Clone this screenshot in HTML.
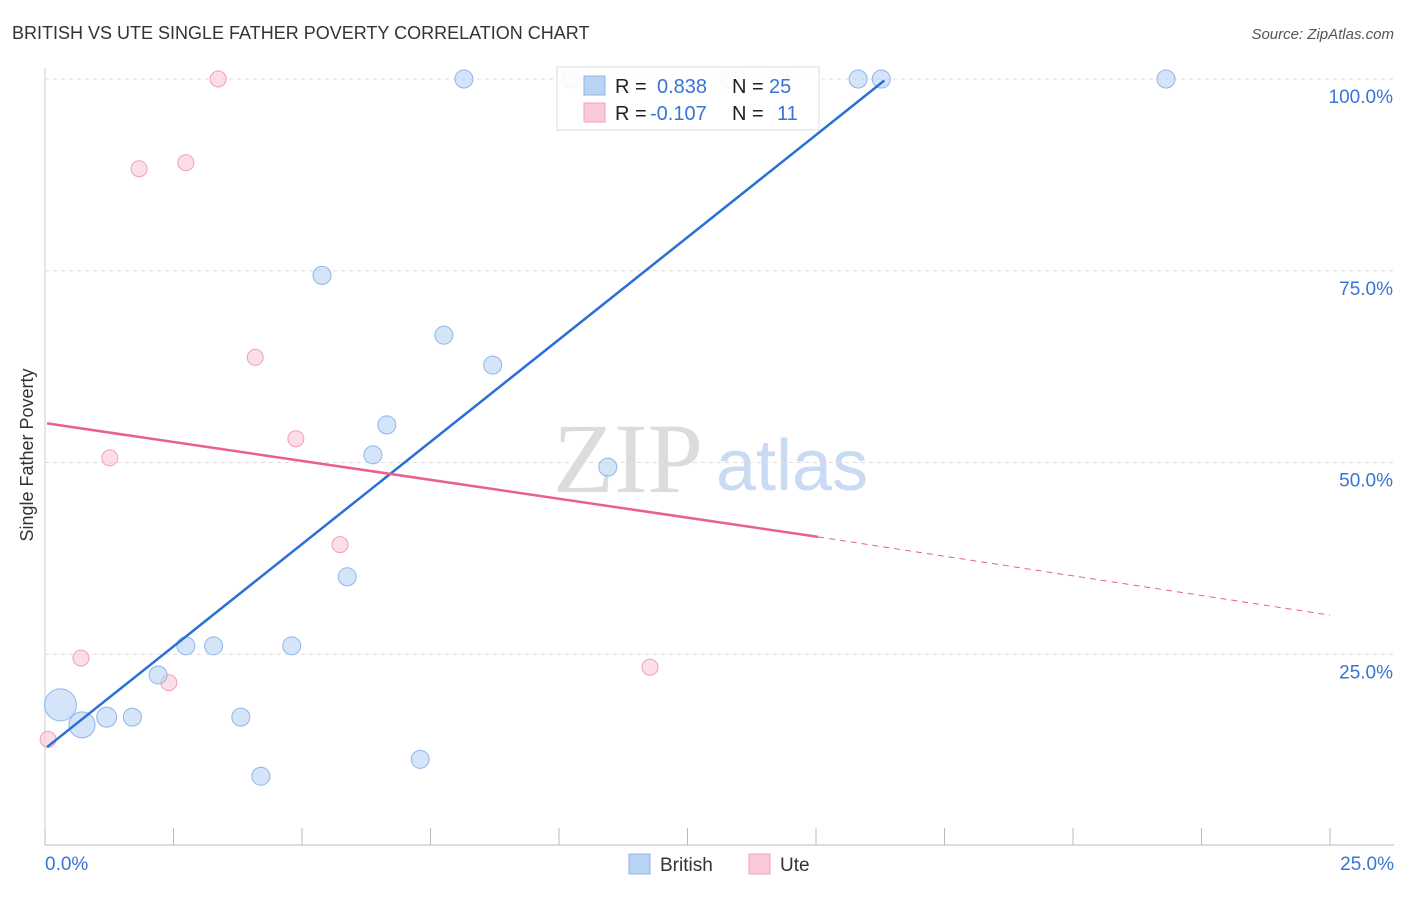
<!DOCTYPE html>
<html><head><meta charset="utf-8"><style>
body{margin:0;background:#fff;font-family:"Liberation Sans",sans-serif;}
</style></head><body>
<svg width="1406" height="892" xmlns="http://www.w3.org/2000/svg" font-family="Liberation Sans, sans-serif">
<text x="12" y="39" font-size="18" fill="#333">BRITISH VS UTE SINGLE FATHER POVERTY CORRELATION CHART</text>
<text x="1394" y="39" font-size="15" fill="#555" font-style="italic" text-anchor="end">Source: ZipAtlas.com</text>
<text x="33" y="455" font-size="18" fill="#333" transform="rotate(-90 33 455)" text-anchor="middle">Single Father Poverty</text>
<text x="553" y="492" font-size="100" fill="#dcdcdc" style="font-family:'Liberation Serif',serif">ZIP</text>
<text x="716" y="490" font-size="72" fill="#c9daf3">atlas</text>
<g id="grid"></g>
<g id="marks"></g>
<g>
<rect x="557" y="67" width="262" height="63" fill="#fff" fill-opacity="0.9" stroke="#ddd"/>
<rect x="584" y="76" width="21" height="19" fill="#b9d3f5" stroke="#8fb5e8"/>
<rect x="584" y="103" width="21" height="19" fill="#fac8d6" stroke="#f0a0b8"/>
<text x="615" y="93" font-size="20" fill="#222">R = </text><text x="657" y="93" font-size="20" fill="#3a74d4">0.838</text>
<text x="732" y="93" font-size="20" fill="#222">N = </text><text x="769" y="93" font-size="20" fill="#3a74d4">25</text>
<text x="615" y="120" font-size="20" fill="#222">R = </text><text x="650" y="120" font-size="20" fill="#3a74d4">-0.107</text>
<text x="732" y="120" font-size="20" fill="#222">N = </text><text x="777" y="120" font-size="20" fill="#3a74d4">11</text>
</g>
<g>
<rect x="629" y="854" width="21" height="20" fill="#b9d3f5" stroke="#8fb5e8"/>
<text x="660" y="871" font-size="19" fill="#333">British</text>
<rect x="749" y="854" width="21" height="20" fill="#fac8d6" stroke="#f0a0b8"/>
<text x="780" y="871" font-size="19" fill="#333">Ute</text>
</g>
</svg>
<script>
const yTicks=[25,50,75,100];
const yTickLabels=["25.0%","50.0%","75.0%","100.0%"];
const britishX=[0.3,0.72,1.2,1.7,2.2,2.74,3.28,3.81,4.2,4.8,5.39,5.88,6.38,6.65,7.3,7.76,8.15,8.71,10.23,10.95,13.33,14.3,15.82,16.27,21.81];
const britishY=[18.4,15.8,16.8,16.8,22.3,26.1,26.1,16.8,9.1,26.1,74.4,35.1,51.0,54.9,11.3,66.6,100,62.7,100,49.4,100,100,100,100,100];
const britishR=[16,13,10,9,9,9,9,9,9,9,9,9,9,9,9,9,9,9,9,9,9,9,9,9,9];
const uteX=[0.06,0.7,1.26,1.83,2.41,2.74,3.37,4.09,4.88,5.74,11.77];
const uteY=[13.9,24.5,50.6,88.3,21.3,89.1,100,63.7,53.1,39.3,23.3];
const blueTrend=[[0.04,12.9],[16.33,99.8]];
const pinkTrend=[[0.04,55.1],[15.04,40.3],[25,30.1]];
const X0=45,X1=1330,Y0=846,Y1=79;
const sx=v=>X0+(X1-X0)*v/25, sy=v=>Y0-(Y0-Y1)*v/100;
const NS="http://www.w3.org/2000/svg";
const grid=document.getElementById('grid'), marks=document.getElementById('marks');
function mk(tag,attrs,parent){const e=document.createElementNS(NS,tag);for(const k in attrs)e.setAttribute(k,attrs[k]);parent.appendChild(e);return e;}
yTicks.forEach((t,i)=>{
 const l=mk('line',{x1:X0,x2:1394,y1:sy(t),y2:sy(t),stroke:'#ddd','stroke-dasharray':'4,4'},grid);
 
 
 const tx=mk('text',{x:1393,y:sy(t)+24,'font-size':19,fill:'#3a74d4','text-anchor':'end'},grid);
 tx.textContent=yTickLabels[i];
 
 
});
const ax=mk('line',{x1:X0,x2:1394,y1:845,y2:845,stroke:'#bbb'},grid);


const ay=mk('line',{x1:X0,x2:X0,y1:68,y2:845,stroke:'#ccc'},grid);


for(let i=0;i<=10;i++){const x=sx(i*2.5);const t=mk('line',{x1:x,x2:x,y1:828,y2:845,stroke:'#bbb'},grid);
 
 }
const xl0=mk('text',{x:45,y:870,'font-size':19,fill:'#3a74d4'},grid);xl0.textContent='0.0%';


const xl1=mk('text',{x:1394,y:870,'font-size':19,fill:'#3a74d4','text-anchor':'end'},grid);xl1.textContent='25.0%';


uteX.forEach((v,i)=>{const c=mk('circle',{cx:sx(v),cy:sy(uteY[i]),r:8,fill:'#fac8d6','fill-opacity':0.6,stroke:'#f0a0b8'},marks);
 
 });
britishX.forEach((v,i)=>{const c=mk('circle',{cx:sx(v),cy:sy(britishY[i]),r:britishR[i],fill:'#b9d3f5','fill-opacity':0.6,stroke:'#8fb5e8'},marks);
 
 });
const bl=mk('line',{x1:sx(blueTrend[0][0]),y1:sy(blueTrend[0][1]),x2:sx(blueTrend[1][0]),y2:sy(blueTrend[1][1]),stroke:'#2a6fd6','stroke-width':2.5},marks);


const pl=mk('line',{x1:sx(pinkTrend[0][0]),y1:sy(pinkTrend[0][1]),x2:sx(pinkTrend[1][0]),y2:sy(pinkTrend[1][1]),stroke:'#e8608c','stroke-width':2.5},marks);


const pd=mk('line',{x1:sx(pinkTrend[1][0]),y1:sy(pinkTrend[1][1]),x2:sx(pinkTrend[2][0]),y2:sy(pinkTrend[2][1]),stroke:'#e8608c','stroke-width':1,'stroke-dasharray':'6,5'},marks);


</script>
</body></html>
